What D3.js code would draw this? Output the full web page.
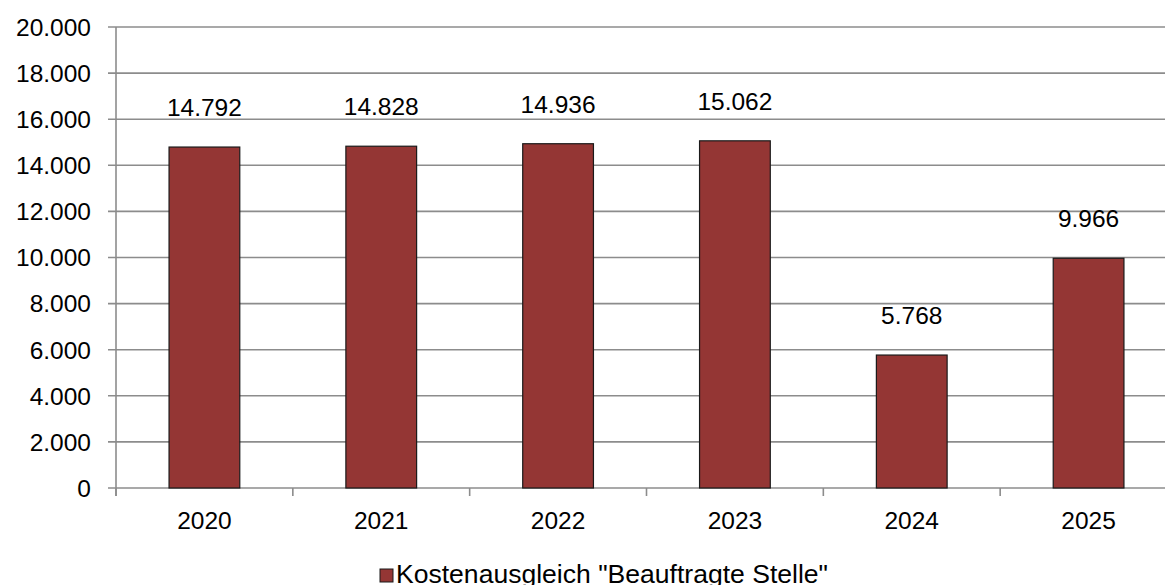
<!DOCTYPE html>
<html>
<head>
<meta charset="utf-8">
<script src="https://cdn.jsdelivr.net/npm/d3@7"></script>
<style>
  body { margin: 0; background: #fff; }
  svg { display: block; font-family: "Liberation Sans", Arial, sans-serif; }
</style>
</head>
<body>
<svg id="chart"></svg>
<script>
var years = ['2020', '2021', '2022', '2023', '2024', '2025'];
var values = [14792, 14828, 14936, 15062, 5768, 9966];
var yTicks = [0, 2000, 4000, 6000, 8000, 10000, 12000, 14000, 16000, 18000, 20000];
var seriesName = 'Kostenausgleich "Beauftragte Stelle"';

var W = 1165, H = 585;
var plotLeft = 116, plotRight = 1177, plotTop = 27, plotBottom = 488;
var barColor = '#943634';
var gridColor = '#8c8c8c';
var fs = 24.5;

var fmt = function(v) { return d3.format(',')(v).replace(/,/g, '.'); };

var svg = d3.select('#chart').attr('width', W).attr('height', H);

var x = d3.scaleBand().domain(years).range([plotLeft, plotRight]).padding(0);
var y = d3.scaleLinear().domain([0, 20000]).range([plotBottom, plotTop]);

// gridlines
svg.append('g')
    .selectAll('line')
    .data(yTicks)
    .enter()
    .append('line')
    .attr('x1', plotLeft - 8)
    .attr('x2', plotRight)
    .attr('y1', function(d) { return y(d); })
    .attr('y2', function(d) { return y(d); })
    .attr('stroke', gridColor)
    .attr('stroke-width', 1.6);

// y labels
svg.append('g')
    .selectAll('text')
    .data(yTicks)
    .enter()
    .append('text')
    .text(function(d) { return fmt(d); })
    .attr('x', 91)
    .attr('y', function(d) { return y(d); })
    .attr('dy', '0.36em')
    .attr('text-anchor', 'end')
    .attr('font-size', fs)
    .attr('fill', '#000');

// y axis line
svg.append('line')
    .attr('x1', plotLeft).attr('x2', plotLeft)
    .attr('y1', plotTop).attr('y2', plotBottom + 8)
    .attr('stroke', gridColor)
    .attr('stroke-width', 1.6);

// x ticks
var boundaries = years.map(function(d) { return x(d); }).concat([plotRight]);
svg.append('g')
    .selectAll('line')
    .data(boundaries)
    .enter()
    .append('line')
    .attr('x1', function(d) { return d; })
    .attr('x2', function(d) { return d; })
    .attr('y1', plotBottom)
    .attr('y2', plotBottom + 8)
    .attr('stroke', gridColor)
    .attr('stroke-width', 1.6);

// bars
var bw = x.bandwidth() * 0.4;
svg.append('g')
    .selectAll('rect')
    .data(values)
    .enter()
    .append('rect')
    .attr('x', function(d, i) { return x(years[i]) + (x.bandwidth() - bw) / 2; })
    .attr('y', function(d) { return y(d); })
    .attr('width', bw)
    .attr('height', function(d) { return plotBottom - y(d); })
    .attr('fill', barColor)
    .attr('stroke', '#1a1a1a')
    .attr('stroke-width', 1.2);

// value labels
svg.append('g')
    .selectAll('text')
    .data(values)
    .enter()
    .append('text')
    .text(function(d) { return fmt(d); })
    .attr('x', function(d, i) { return x(years[i]) + x.bandwidth() / 2; })
    .attr('y', function(d) { return y(d) - 31; })
    .attr('text-anchor', 'middle')
    .attr('font-size', fs)
    .attr('fill', '#000');

// x labels
svg.append('g')
    .selectAll('text')
    .data(years)
    .enter()
    .append('text')
    .text(function(d) { return d; })
    .attr('x', function(d) { return x(d) + x.bandwidth() / 2; })
    .attr('y', 529)
    .attr('text-anchor', 'middle')
    .attr('font-size', fs)
    .attr('fill', '#000');

// legend
var lg = svg.append('g');
lg.append('rect')
    .attr('x', 380).attr('y', 569)
    .attr('width', 13).attr('height', 13)
    .attr('fill', barColor)
    .attr('stroke', '#1a1a1a')
    .attr('stroke-width', 1);
lg.append('text')
    .text(seriesName)
    .attr('x', 396)
    .attr('y', 583)
    .attr('font-size', 25.5)
    .attr('textLength', 432)
    .attr('lengthAdjust', 'spacingAndGlyphs')
    .attr('fill', '#000');
</script>
</body>
</html>
